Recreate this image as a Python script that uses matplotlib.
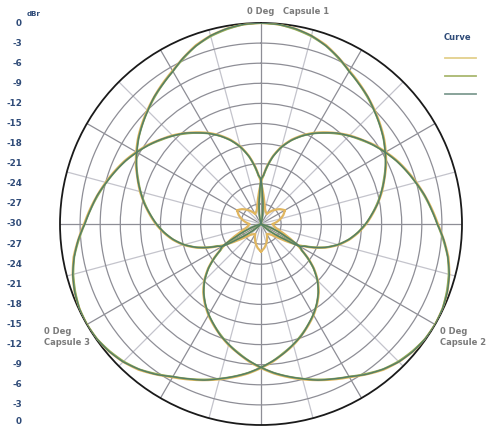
import numpy as np
import matplotlib.pyplot as plt
from matplotlib.lines import Line2D

# one side of the capsule pattern: off-axis angle (deg) -> level (dBr)
off_axis = [0, 5, 10, 15, 20, 25, 30, 35, 40, 45, 50, 55, 60, 65, 70, 75,
            80, 85, 90, 95, 100, 105, 110, 114, 117, 120, 123, 126, 128,
            130, 134, 140, 150, 160, 172, 180]
curve_1 = [0, -0.1, -0.4, -0.9, -1.6, -2.6, -3.6, -4.4, -5.2, -6.0, -6.8,
           -7.6, -8.5, -9.4, -10.4, -11.3, -12.3, -13.3, -14.3, -15.4,
           -16.6, -18.0, -19.7, -21.3, -22.6, -23.8, -25.0, -26.0, -26.5,
           -27.0, -27.6, -28.0, -28.3, -27.4, -26.4, -25.9]
curve_2 = [0, -0.1, -0.5, -1.0, -1.7, -2.7, -3.7, -4.5, -5.3, -6.1, -6.9,
           -7.7, -8.6, -9.5, -10.5, -11.4, -12.4, -13.4, -14.4, -15.5,
           -16.7, -18.1, -19.8, -21.5, -22.8, -23.4, -26.0, -27.3, -28.1,
           -28.8, -30, -30, -30, -30, -30, -30]
curve_3 = [0, -0.1, -0.4, -0.9, -1.7, -2.6, -3.7, -4.5, -5.2, -6.1, -6.9,
           -7.7, -8.6, -9.5, -10.4, -11.4, -12.3, -13.4, -14.4, -15.5,
           -16.7, -18.1, -19.8, -21.4, -22.7, -23.3, -25.8, -27.2, -28.0,
           -28.7, -30, -30, -30, -30, -30, -30]
curve_colors = ['#e0b660', '#9aaf5a', '#547d66']
curve_widths = [1.6, 1.4, 1.0]

capsules = ['Capsule 1', 'Capsule 2', 'Capsule 3']
capsule_deg = [0, 120, 240]

levels = list(range(0, -31, -3))

label_blue = '#2f4b78'
label_grey = '#7b7b7b'

fig = plt.figure(figsize=(4.86, 4.28), dpi=100)
ax = fig.add_axes([60 / 486, 3 / 428, 402 / 486, 402 / 428], projection='polar')
ax.set_theta_zero_location('N')
ax.set_theta_direction(-1)
ax.set_rlim(-30, 0)

phi = np.array(off_axis, dtype=float)
full_phi = np.concatenate([-phi[::-1], phi[1:]])

for vals, col, lw in zip([curve_1, curve_2, curve_3], curve_colors, curve_widths):
    v = np.array(vals, dtype=float)
    full_v = np.concatenate([v[::-1], v[1:]])
    for d in capsule_deg:
        line, = ax.plot(np.radians(full_phi + d), full_v, color=col, lw=lw,
                        solid_joinstyle='round', zorder=3)
        line.get_path()._interpolation_steps = 16

# grid
ax.set_yticks(levels[1:-1])
ax.set_yticklabels([])
ax.set_xticks(np.radians(np.arange(0, 360, 30)))
ax.set_xticks(np.radians(np.arange(15, 360, 30)), minor=True)
ax.set_xticklabels([])
ax.tick_params(which='both', length=0)
ax.yaxis.grid(True, color='#8e8e96', lw=0.9)
ax.xaxis.grid(True, which='major', color='#8e8e96', lw=0.9)
ax.xaxis.grid(True, which='minor', color='#c4c4cc', lw=0.9)
ax.spines['polar'].set_color('#1a1a1a')
ax.spines['polar'].set_linewidth(1.3)

# level labels down the left side
H = fig.bbox.height
for v in levels:
    for t in (0, np.pi):
        if v == -30 and t == np.pi:
            continue
        x, y = ax.transData.transform((t, v))
        y = max(y, 6)
        fig.text(22 / 486, y / H, str(v), ha='right', va='center',
                 fontsize=6.3, fontweight='bold', color=label_blue)
fig.text(27 / 486, 1 - 14 / 428, 'dBr', ha='left', va='center', fontsize=5,
         fontweight='bold', color=label_blue)

# capsule annotations
fig.text(288 / 486, 1 - 12 / 428, '0 Deg   Capsule 1', ha='center', va='center',
         fontsize=6, fontweight='bold', color=label_grey)
fig.text(44 / 486, 1 - 337 / 428, '0 Deg\nCapsule 3', ha='left', va='center',
         fontsize=6, fontweight='bold', color=label_grey, linespacing=1.3)
fig.text(440 / 486, 1 - 337 / 428, '0 Deg\nCapsule 2', ha='left', va='center',
         fontsize=6, fontweight='bold', color=label_grey, linespacing=1.3)

# legend
fig.text(457 / 486, 1 - 38 / 428, 'Curve', ha='center', va='center',
         fontsize=6, fontweight='bold', color=label_blue)
for i, col in enumerate(['#e3d08c', '#a9b86f', '#7f9c92']):
    yy = 1 - (58 + 18 * i) / 428
    fig.add_artist(Line2D([445 / 486, 476 / 486], [yy, yy], color=col, lw=1.3,
                          transform=fig.transFigure))

fig.savefig('out.png', dpi=100)
